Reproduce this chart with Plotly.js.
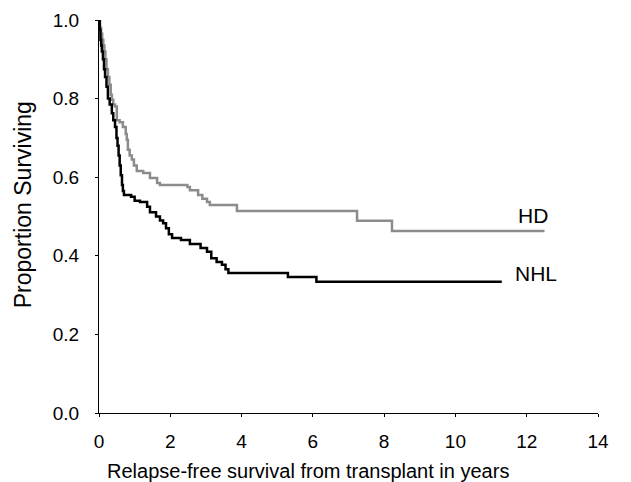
<!DOCTYPE html>
<html>
<head>
<meta charset="utf-8">
<script src="https://cdn.plot.ly/plotly-3.0.1.min.js"></script>
<style>html,body{margin:0;padding:0;background:#fff;}#chart{width:631px;height:482px;}</style>
</head>
<body>
<div id="chart"></div>
<script>
// Kaplan-Meier estimates
const hdYears = [0, 0.03, 0.06, 0.09, 0.12, 0.15, 0.18, 0.21, 0.25, 0.29, 0.33, 0.36, 0.4, 0.45, 0.5, 0.58, 0.67, 0.75, 0.78, 0.81, 0.86, 0.92, 0.98, 1.06, 1.24, 1.43, 1.63, 1.71, 2.48, 2.55, 2.78, 2.9, 3.03, 3.11, 3.87, 7.24, 8.22, 12.5];
const hdSurv  = [1.0, 0.98, 0.965, 0.95, 0.935, 0.92, 0.9, 0.875, 0.855, 0.835, 0.81, 0.797, 0.785, 0.78, 0.745, 0.74, 0.728, 0.71, 0.695, 0.67, 0.655, 0.645, 0.63, 0.616, 0.611, 0.598, 0.585, 0.58, 0.575, 0.567, 0.555, 0.545, 0.537, 0.529, 0.514, 0.489, 0.463, 0.463];

const nhlYears = [0, 0.02, 0.04, 0.06, 0.08, 0.11, 0.14, 0.17, 0.21, 0.25, 0.3, 0.36, 0.4, 0.45, 0.49, 0.52, 0.55, 0.58, 0.61, 0.645, 0.67, 0.7, 0.9, 1.0, 1.15, 1.35, 1.43, 1.6, 1.71, 1.8, 1.88, 1.96, 2.05, 2.3, 2.55, 2.85, 3.03, 3.15, 3.3, 3.45, 3.55, 3.63, 5.3, 6.1, 11.3];
const nhlSurv  = [1.0, 0.975, 0.95, 0.935, 0.92, 0.9, 0.875, 0.855, 0.83, 0.8, 0.785, 0.763, 0.745, 0.728, 0.7, 0.68, 0.655, 0.63, 0.605, 0.58, 0.565, 0.555, 0.55, 0.54, 0.537, 0.525, 0.511, 0.5, 0.49, 0.483, 0.47, 0.455, 0.445, 0.44, 0.43, 0.42, 0.41, 0.394, 0.384, 0.377, 0.366, 0.356, 0.346, 0.334, 0.334];

const seriesNames = ["HD", "NHL"];
const xTicks = [0, 2, 4, 6, 8, 10, 12, 14];
const yTicks = [0.0, 0.2, 0.4, 0.6, 0.8, 1.0];

const FONT = "Liberation Sans, Arial, sans-serif";

const traces = [
  {x: hdYears, y: hdSurv, mode: "lines", line: {shape: "hv", color: "#8c8c8c", width: 2.5}, name: seriesNames[0], hoverinfo: "skip"},
  {x: nhlYears, y: nhlSurv, mode: "lines", line: {shape: "hv", color: "#000000", width: 2.5}, name: seriesNames[1], hoverinfo: "skip"}
];

const layout = {
  width: 631, height: 482,
  margin: {l: 99, r: 33, t: 20, b: 69},
  paper_bgcolor: "#fff", plot_bgcolor: "#fff",
  showlegend: false,
  font: {family: FONT, size: 19, color: "#000"},
  xaxis: {
    range: [0, 14], tickvals: xTicks, ticktext: xTicks.map(String),
    showline: true, linecolor: "#000", linewidth: 1, zeroline: false, showgrid: false,
    ticks: "outside", ticklen: 3, tickcolor: "#000", tickfont: {size: 19, family: FONT},
    ticklabelstandoff: 8
  },
  yaxis: {
    range: [0, 1], tickvals: yTicks, ticktext: yTicks.map(v => v.toFixed(1)),
    showline: true, linecolor: "#000", linewidth: 1, zeroline: false, showgrid: false,
    ticks: "outside", ticklen: 3, tickcolor: "#000", tickfont: {size: 19, family: FONT},
    ticklabelstandoff: 12
  },
  annotations: [
    {text: "Relapse-free survival from transplant in years", xref: "paper", yref: "paper", x: 0.419, y: -0.147, xanchor: "center", yanchor: "middle", showarrow: false, font: {size: 20, family: FONT}},
    {text: "Proportion Surviving", xref: "paper", yref: "paper", x: -0.152, y: 0.529, xanchor: "center", yanchor: "middle", textangle: -90, showarrow: false, font: {size: 23, family: FONT}},
    {text: seriesNames[0], xref: "x", yref: "y", x: 12.17, y: 0.503, xanchor: "center", yanchor: "middle", showarrow: false, font: {size: 21, family: FONT}},
    {text: seriesNames[1], xref: "x", yref: "y", x: 12.26, y: 0.354, xanchor: "center", yanchor: "middle", showarrow: false, font: {size: 21, family: FONT}}
  ]
};

Plotly.newPlot("chart", traces, layout, {displayModeBar: false, staticPlot: true});
</script>
</body>
</html>
